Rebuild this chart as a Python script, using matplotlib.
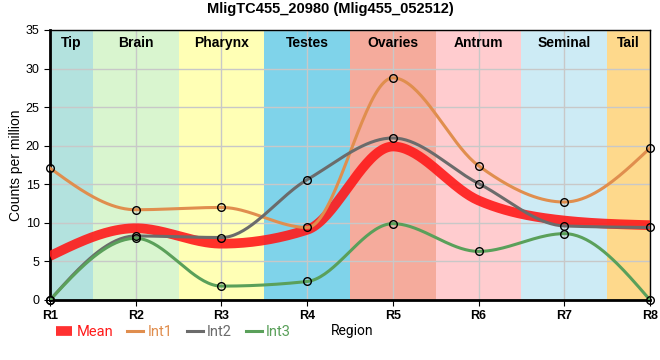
import numpy as np
import matplotlib
matplotlib.use("Agg")
import matplotlib.pyplot as plt

plt.rcParams['font.family'] = ['Liberation Sans', 'DejaVu Sans']

# --- data ---
regions = ['R1', 'R2', 'R3', 'R4', 'R5', 'R6', 'R7', 'R8']
int1 = [17.1, 11.7, 12.0, 9.4, 28.8, 17.4, 12.7, 19.7]
int2 = [0.0, 8.3, 8.1, 15.6, 21.0, 15.1, 9.6, 9.4]
int3 = [0.0, 8.0, 1.8, 2.4, 9.9, 6.3, 8.6, 0.0]
mean = [5.7, 9.3, 7.3, 9.1, 19.9, 12.9, 10.3, 9.7]

tissues = ['Tip', 'Brain', 'Pharynx', 'Testes', 'Ovaries', 'Antrum', 'Seminal', 'Tail']
tissue_colors = ['#b3e2de', '#d9f5cf', '#ffffb5', '#7fd3ea', '#f5ab9c',
                 '#ffcccf', '#cdebf5', '#fed98c']


def monotone_curve(y, n=40):
    # monotone cubic hermite (like d3 curveMonotoneX), only for drawing
    y = np.asarray(y, float)
    x = np.arange(len(y), dtype=float)
    s = np.diff(y)
    m = np.zeros_like(y)
    for i in range(1, len(y) - 1):
        s0, s1 = s[i - 1], s[i]
        p = (s0 + s1) / 2
        m[i] = (np.sign(s0) + np.sign(s1)) * min(abs(s0), abs(s1), 0.5 * abs(p))
    m[0] = (3 * s[0] - m[1]) / 2
    m[-1] = (3 * s[-1] - m[-2]) / 2
    xs, ys = [], []
    for i in range(len(y) - 1):
        t = np.linspace(0, 1, n)
        h00 = 2 * t**3 - 3 * t**2 + 1
        h10 = t**3 - 2 * t**2 + t
        h01 = -2 * t**3 + 3 * t**2
        h11 = t**3 - t**2
        xs.append(x[i] + t)
        ys.append(h00 * y[i] + h10 * m[i] + h01 * y[i + 1] + h11 * m[i + 1])
    return np.concatenate(xs), np.concatenate(ys)


fig = plt.figure(figsize=(6.6, 3.6), dpi=100)
ax = fig.add_axes([50 / 660, 60 / 360, 600 / 660, 270 / 360])

# background bands
for i, (name, c) in enumerate(zip(tissues, tissue_colors)):
    lo = max(i - 0.5, 0)
    hi = min(i + 0.5, len(regions) - 1)
    ax.axvspan(lo, hi, color=c, zorder=0, lw=0)
    ax.text((lo + hi) / 2, 34.2, name, ha='center', va='top',
            fontsize=10, fontweight='bold', zorder=5)

ax.grid(True, color='#c8c8c8', lw=1, zorder=1)

xm, ym = monotone_curve(mean)
ax.plot(xm, ym, color='#ff1a1a', lw=7, alpha=0.9, zorder=3, label='Mean',
        solid_capstyle='butt')
for vals, col, lab in [(int1, '#e08e4e', 'Int1'), (int2, '#6b6b6b', 'Int2'),
                       (int3, '#5aa05a', 'Int3')]:
    xc, yc = monotone_curve(vals)
    ax.plot(xc, yc, color=col, lw=2.2, zorder=4, label=lab)
    ax.plot(range(len(vals)), vals, 'o', ms=5.5, mfc='none', mec='black',
            mew=1, zorder=6, clip_on=False)

ax.set_xlim(0, len(regions) - 1)
ax.set_ylim(0, 35)
ax.set_xticks(range(len(regions)))
ax.set_xticklabels(regions, fontweight='bold', fontsize=10)
ax.set_yticks(range(0, 36, 5))
ax.tick_params(labelsize=9, length=4)
ax.set_ylabel('Counts per million', fontsize=10, labelpad=2)
for side in ['left', 'bottom']:
    ax.spines[side].set_linewidth(2)
for side in ['top', 'right']:
    ax.spines[side].set_linewidth(1)

fig.suptitle('MligTC455_20980 (Mlig455_052512)', fontsize=10.5,
             fontweight='bold', y=0.995)

leg = fig.legend(loc='lower left', bbox_to_anchor=(46 / 660, 11 / 360),
                 ncol=4, frameon=False, handlelength=1.1,
                 prop={'family': 'Roboto', 'size': 10.5},
                 handletextpad=0.3, columnspacing=0.95, borderpad=0.2)
for txt, h in zip(leg.get_texts(), leg.legend_handles):
    txt.set_color(h.get_color())
fig.text(331 / 660, 29 / 360, 'Region', fontsize=10, va='center',
         family='Roboto')

fig.savefig('out.png', dpi=100)
